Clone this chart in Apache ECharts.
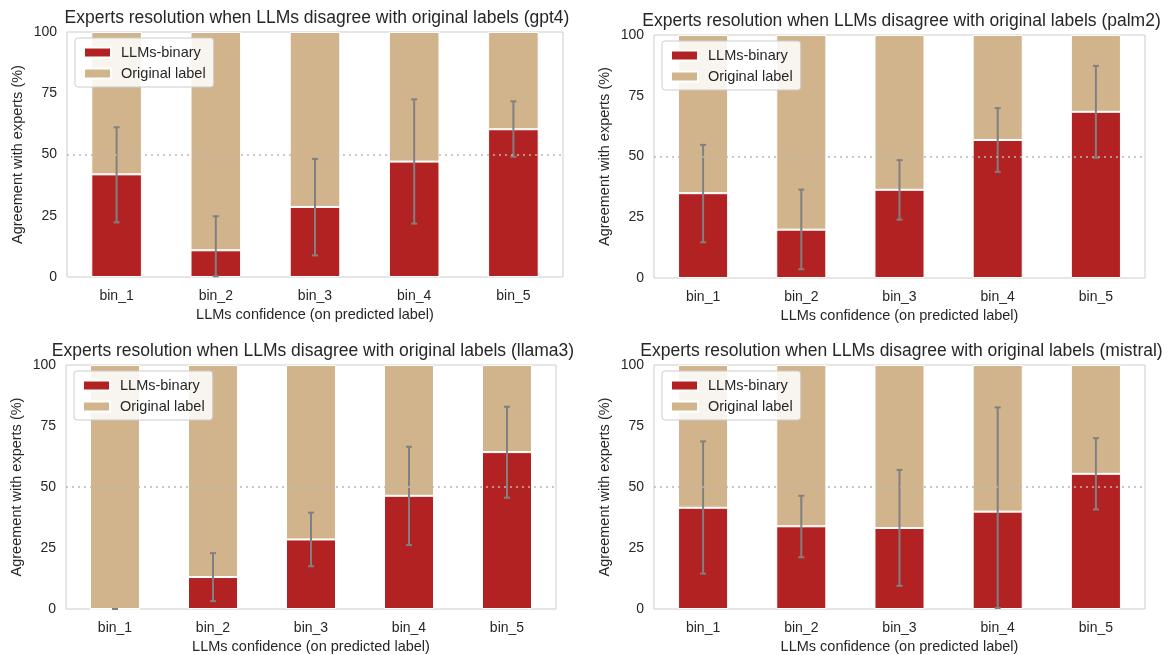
<!DOCTYPE html>
<html>
<head>
<meta charset="utf-8">
<script src="https://cdn.jsdelivr.net/npm/echarts@6/dist/echarts.min.js"></script>
<style>html,body{margin:0;padding:0;background:#fff}#c{width:1168px;height:655px}</style>
</head>
<body>
<div id="c"></div>
<script>
var categories = ['bin_1', 'bin_2', 'bin_3', 'bin_4', 'bin_5'];
var models = ['gpt4', 'palm2', 'llama3', 'mistral'];
var yTicks = [0, 25, 50, 75, 100];

// LLMs-binary agreement (%) per bin
var gpt4Values = [41.9, 10.9, 28.6, 47.1, 60.3];
var palm2Values = [34.9, 19.9, 36.3, 56.8, 68.4];
var llama3Values = [0, 13.1, 28.5, 46.4, 64.3];
var mistralValues = [41.5, 33.9, 33.2, 39.9, 55.4];

// error bar low / high
var gpt4Low = [22.3, 0.3, 8.8, 21.8, 49.1];
var gpt4High = [61.1, 24.8, 48.2, 72.5, 71.7];
var palm2Low = [14.7, 3.6, 24.0, 43.7, 49.5];
var palm2High = [54.8, 36.4, 48.5, 69.9, 87.3];
var llama3Low = [0, 3.2, 17.5, 26.2, 45.6];
var llama3High = [0, 22.9, 39.5, 66.5, 82.9];
var mistralLow = [14.5, 21.2, 9.5, 0.4, 40.8];
var mistralHigh = [68.7, 46.4, 57.0, 82.6, 70.0];

var valuesList = [gpt4Values, palm2Values, llama3Values, mistralValues];
var lowList = [gpt4Low, palm2Low, llama3Low, mistralLow];
var highList = [gpt4High, palm2High, llama3High, mistralHigh];

var RED = '#b22222', TAN = '#d2b48c', TXT = '#262626';
var FONT = 'Liberation Sans, Arial, sans-serif';

var grids = [
  {left: 67, top: 32, width: 496, height: 245},
  {left: 654, top: 35, width: 491, height: 243},
  {left: 66, top: 365, width: 490, height: 245},
  {left: 654, top: 365, width: 491, height: 245}
];

var option = {
  animation: false,
  backgroundColor: '#fff',
  textStyle: {fontFamily: FONT},
  title: [], legend: [], grid: [], xAxis: [], yAxis: [], series: []
};

grids.forEach(function (g, i) {
  option.grid.push({left: g.left, top: g.top, width: g.width, height: g.height,
    show: true, borderColor: '#cccccc', borderWidth: 1, backgroundColor: 'transparent', containLabel: false});
  option.title.push({
    text: 'Experts resolution when LLMs disagree with original labels (' + models[i] + ')',
    left: g.left + g.width / 2 - 3, top: g.top - 28, textAlign: 'center',
    textStyle: {fontFamily: FONT, fontSize: 17.5, fontWeight: 'normal', color: TXT}
  });
  option.legend.push({
    orient: 'vertical', left: g.left + 8, top: g.top + 6,
    itemWidth: 27, itemHeight: 10, itemGap: 6,
    padding: [7, 8, 6, 8],
    backgroundColor: 'rgba(255,255,255,0.85)', borderColor: '#cccccc', borderWidth: 1, borderRadius: 3,
    icon: 'rect',
    textStyle: {fontFamily: FONT, fontSize: 14.5, color: TXT, padding: [0, 0, 0, 5]},
    data: ['LLMs-binary', 'Original label']
  });
  option.xAxis.push({
    type: 'category', gridIndex: i, data: categories,
    axisLine: {show: false}, axisTick: {show: false},
    axisLabel: {fontFamily: FONT, fontSize: 14, color: TXT, margin: 12},
    name: 'LLMs confidence (on predicted label)', nameLocation: 'middle', nameGap: 30,
    nameTextStyle: {fontFamily: FONT, fontSize: 14.5, color: TXT}
  });
  option.yAxis.push({
    type: 'value', gridIndex: i, min: 0, max: 100, interval: 25,
    axisLine: {show: false}, axisTick: {show: false}, splitLine: {show: false},
    axisLabel: {fontFamily: FONT, fontSize: 14, color: TXT, margin: 10},
    name: 'Agreement with experts (%)', nameLocation: 'middle', nameGap: 42, nameRotate: 90,
    nameTextStyle: {fontFamily: FONT, fontSize: 14.5, color: TXT}
  });
  var vals = valuesList[i];
  option.series.push({
    name: 'LLMs-binary', type: 'bar', xAxisIndex: i, yAxisIndex: i, stack: 's' + i,
    barWidth: '51%', data: vals,
    itemStyle: {color: RED, borderColor: '#ffffff', borderWidth: 1},
    markLine: {
      silent: true, symbol: 'none', label: {show: false},
      lineStyle: {color: '#b8b8b8', type: [2, 4], width: 1.5},
      data: [{yAxis: 50}], z: 10
    },
    z: 2
  });
  option.series.push({
    name: 'Original label', type: 'bar', xAxisIndex: i, yAxisIndex: i, stack: 's' + i,
    barWidth: '51%', data: vals.map(function (v) { return +(100 - v).toFixed(1); }),
    itemStyle: {color: TAN, borderColor: '#ffffff', borderWidth: 1},
    z: 2
  });
  var errData = categories.map(function (c, k) { return [k, lowList[i][k], highList[i][k]]; });
  option.series.push({
    type: 'custom', xAxisIndex: i, yAxisIndex: i, data: errData, z: 5,
    renderItem: function (params, api) {
      var x = api.value(0);
      var lo = api.coord([x, api.value(1)]);
      var hi = api.coord([x, api.value(2)]);
      var cw = 3;
      var st = {stroke: '#808080', lineWidth: 2};
      return {type: 'group', children: [
        {type: 'line', shape: {x1: lo[0], y1: lo[1], x2: hi[0], y2: hi[1]}, style: st},
        {type: 'line', shape: {x1: lo[0] - cw, y1: lo[1], x2: lo[0] + cw, y2: lo[1]}, style: st},
        {type: 'line', shape: {x1: hi[0] - cw, y1: hi[1], x2: hi[0] + cw, y2: hi[1]}, style: st}
      ]};
    }
  });
});

var chart = echarts.init(document.getElementById('c'), null, {renderer: 'canvas'});
chart.setOption(option);
</script>
</body>
</html>
